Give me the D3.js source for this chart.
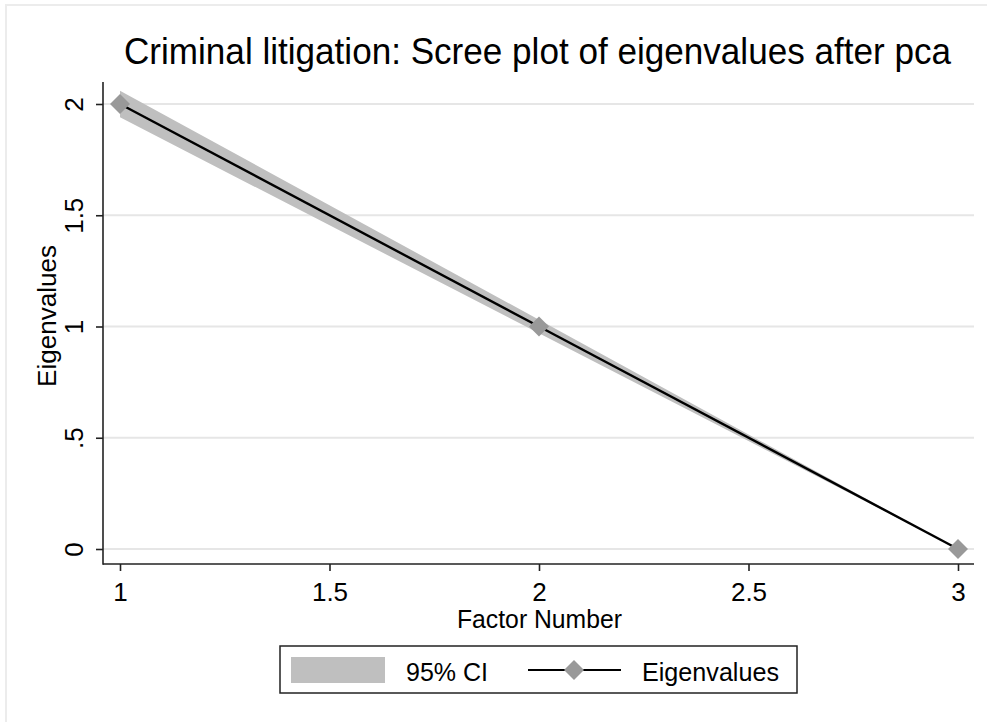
<!DOCTYPE html>
<html>
<head>
<meta charset="utf-8">
<script src="https://cdn.jsdelivr.net/npm/d3@7"></script>
<style>
  html, body { margin: 0; padding: 0; background: #fff; }
  svg { display: block; font-family: "Liberation Sans", Arial, Helvetica, sans-serif; }
</style>
</head>
<body>
<svg id="chart" width="987" height="722"></svg>
<script>
// ---- data ----
const factors = [1, 2, 3];
const eigenvalues = [2, 1, 0];
const ciLower = [1.94, 0.97, 0];
const ciUpper = [2.06, 1.03, 0];
const xTicks = [1, 1.5, 2, 2.5, 3];
const xTickLabels = ["1", "1.5", "2", "2.5", "3"];
const yTicks = [0, 0.5, 1, 1.5, 2];
const yTickLabels = ["0", ".5", "1", "1.5", "2"];
const titleText = "Criminal litigation: Scree plot of eigenvalues after pca";
const xTitle = "Factor Number";
const yTitle = "Eigenvalues";
const legendLabels = ["95% CI", "Eigenvalues"];

const svg = d3.select("#chart");
const bandColor = "#bfbfbf";
const markerColor = "#999999";
const gridColor = "#e6e6e6";

// outer graph-region frame
svg.append("rect").attr("x", 6).attr("y", 5).attr("width", 1000).attr("height", 800)
  .attr("fill", "none").attr("stroke", "#ececec").attr("stroke-width", 2);

const x = d3.scaleLinear().domain([1, 3]).range([120, 958]);
const y = d3.scaleLinear().domain([0, 2]).range([549, 104]);
const plotLeft = 103, plotRight = 974, plotTop = 82, plotBottom = 564;

// gridlines
svg.append("g").selectAll("line").data(yTicks).join("line")
  .attr("x1", plotLeft).attr("x2", plotRight)
  .attr("y1", d => y(d)).attr("y2", d => y(d))
  .attr("stroke", gridColor).attr("stroke-width", 2);

// axes
const yAxis = d3.axisLeft(y).tickValues(yTicks).tickSize(7).tickPadding(12)
  .tickFormat((d, i) => yTickLabels[i]);
const gy = svg.append("g").attr("transform", `translate(${plotLeft},0)`).call(yAxis);
gy.select(".domain").remove();
gy.selectAll(".tick line").attr("stroke", "#222").attr("stroke-width", 1.6);
gy.selectAll(".tick text")
  .attr("x", null).attr("dy", null)
  .attr("text-anchor", "middle")
  .attr("transform", "translate(-20,0) rotate(-90)")
  .attr("font-size", 26).attr("fill", "#000")
  .attr("font-family", "'Liberation Sans', Arial, sans-serif");

const xAxis = d3.axisBottom(x).tickValues(xTicks).tickSize(7).tickPadding(8)
  .tickFormat((d, i) => xTickLabels[i]);
const gx = svg.append("g").attr("transform", `translate(0,${plotBottom})`).call(xAxis);
gx.select(".domain").remove();
gx.selectAll(".tick line").attr("stroke", "#222").attr("stroke-width", 1.6);
gx.selectAll(".tick text").attr("dy", null).attr("y", 37)
  .attr("font-size", 26).attr("fill", "#000")
  .attr("font-family", "'Liberation Sans', Arial, sans-serif");

// axis lines
svg.append("line").attr("x1", plotLeft).attr("x2", plotLeft).attr("y1", plotTop).attr("y2", plotBottom + 0.8)
  .attr("stroke", "#222").attr("stroke-width", 1.6);
svg.append("line").attr("x1", plotLeft).attr("x2", plotRight).attr("y1", plotBottom).attr("y2", plotBottom)
  .attr("stroke", "#222").attr("stroke-width", 1.6);

// CI band
const pts = factors.map((f, i) => ({ f, v: eigenvalues[i], lo: ciLower[i], hi: ciUpper[i] }));
svg.append("path").datum(pts)
  .attr("d", d3.area().x(d => x(d.f)).y0(d => y(d.lo)).y1(d => y(d.hi)))
  .attr("fill", bandColor);

// eigenvalue line
svg.append("path").datum(pts)
  .attr("d", d3.line().x(d => x(d.f)).y(d => y(d.v)))
  .attr("fill", "none").attr("stroke", "#000").attr("stroke-width", 2.4);

// markers
const diamond = d3.symbol().type(d3.symbolSquare).size(200);
svg.append("g").selectAll("path").data(pts).join("path")
  .attr("d", diamond)
  .attr("transform", d => `translate(${x(d.f)},${y(d.v)}) rotate(45)`)
  .attr("fill", markerColor);

// titles
svg.append("text").attr("x", 537.5).attr("y", 64).attr("text-anchor", "middle")
  .attr("font-size", 36).attr("textLength", 827).attr("lengthAdjust", "spacingAndGlyphs")
  .text(titleText);
svg.append("text").attr("x", 539.5).attr("y", 628).attr("text-anchor", "middle")
  .attr("font-size", 25).attr("textLength", 165).attr("lengthAdjust", "spacingAndGlyphs")
  .text(xTitle);
svg.append("text").attr("transform", "translate(56,316) rotate(-90)").attr("text-anchor", "middle")
  .attr("font-size", 25).attr("textLength", 142).attr("lengthAdjust", "spacingAndGlyphs")
  .text(yTitle);

// legend
const lg = svg.append("g");
lg.append("rect").attr("x", 280).attr("y", 646).attr("width", 517).attr("height", 47)
  .attr("fill", "#fff").attr("stroke", "#222").attr("stroke-width", 1.5);
lg.append("rect").attr("x", 291).attr("y", 657).attr("width", 94).attr("height", 26)
  .attr("fill", bandColor);
lg.append("text").attr("x", 406).attr("y", 681).attr("font-size", 25)
  .attr("textLength", 82).attr("lengthAdjust", "spacingAndGlyphs").text(legendLabels[0]);
lg.append("line").attr("x1", 528).attr("x2", 621).attr("y1", 670).attr("y2", 670)
  .attr("stroke", "#000").attr("stroke-width", 2.2);
lg.append("path").attr("d", diamond).attr("transform", "translate(574,670) rotate(45)")
  .attr("fill", markerColor);
lg.append("text").attr("x", 642).attr("y", 681).attr("font-size", 25)
  .attr("textLength", 137).attr("lengthAdjust", "spacingAndGlyphs").text(legendLabels[1]);
</script>
</body>
</html>
